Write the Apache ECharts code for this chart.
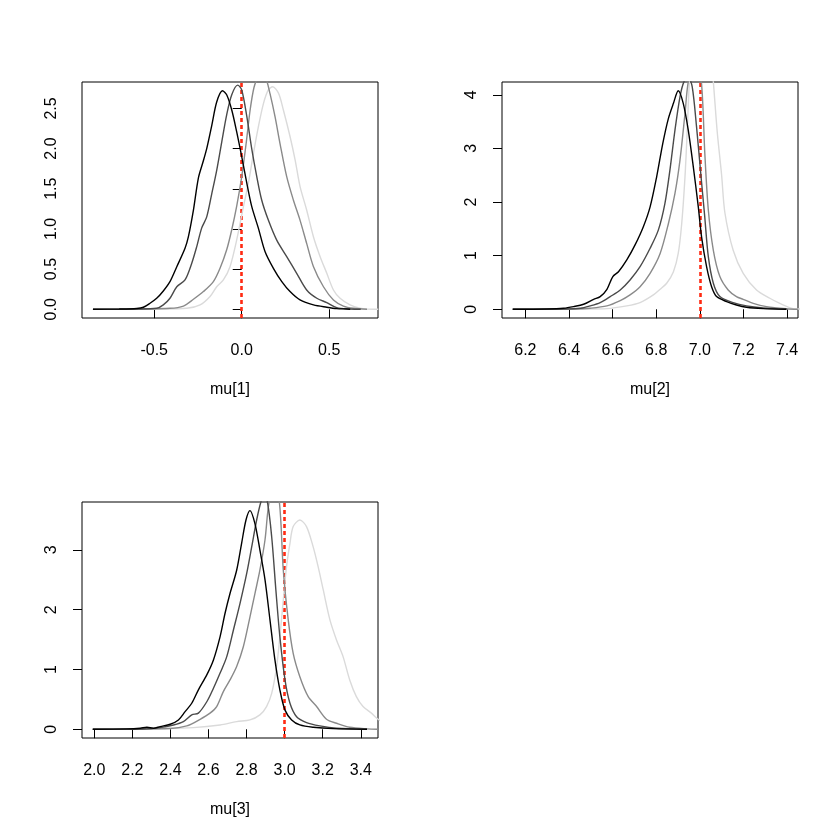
<!DOCTYPE html>
<html>
<head>
<meta charset="utf-8">
<script src="https://cdn.jsdelivr.net/npm/echarts@6/dist/echarts.min.js"></script>
<style>html,body{margin:0;padding:0;background:#fff}#c{width:840px;height:840px}</style>
</head>
<body>
<div id="c"></div>
<script>
// ---- data ----
var mu1_chain1 = [[-0.85,0],[-0.7,0.003],[-0.6,0.01],[-0.562,0.025],[-0.524,0.075],[-0.486,0.137],[-0.448,0.228],[-0.41,0.344],[-0.371,0.53],[-0.324,0.76],[-0.305,0.90],[-0.276,1.235],[-0.248,1.63],[-0.223,1.82],[-0.2,2.0],[-0.171,2.29],[-0.143,2.58],[-0.11,2.72],[-0.086,2.67],[-0.057,2.48],[-0.029,2.21],[0,1.9],[0.029,1.57],[0.057,1.28],[0.095,1.01],[0.133,0.72],[0.181,0.51],[0.229,0.344],[0.276,0.22],[0.333,0.116],[0.41,0.054],[0.486,0.025],[0.543,0.008],[0.6,0.003],[0.62,0]];
var mu1_chain2 = [[-0.85,0],[-0.6,0.003],[-0.486,0.012],[-0.448,0.054],[-0.41,0.137],[-0.371,0.28],[-0.324,0.365],[-0.286,0.57],[-0.257,0.78],[-0.229,1.01],[-0.2,1.15],[-0.171,1.44],[-0.143,1.73],[-0.114,2.085],[-0.086,2.42],[-0.057,2.67],[-0.023,2.79],[0,2.73],[0.029,2.40],[0.057,2.0],[0.086,1.65],[0.114,1.36],[0.152,1.11],[0.2,0.86],[0.257,0.655],[0.314,0.448],[0.371,0.24],[0.429,0.137],[0.486,0.083],[0.543,0.02],[0.62,0.003],[0.68,0]];
var mu1_chain3 = [[-0.7,0],[-0.41,0.012],[-0.333,0.04],[-0.276,0.124],[-0.219,0.22],[-0.162,0.344],[-0.124,0.51],[-0.086,0.74],[-0.057,0.99],[-0.029,1.28],[0,1.65],[0.025,2.06],[0.048,2.48],[0.07,2.76],[0.09,2.87],[0.115,2.92],[0.14,2.86],[0.162,2.68],[0.19,2.40],[0.219,2.06],[0.257,1.65],[0.295,1.36],[0.333,1.11],[0.371,0.82],[0.41,0.53],[0.467,0.28],[0.524,0.116],[0.581,0.04],[0.638,0.012],[0.716,0]];
var mu1_chain4 = [[-0.6,0],[-0.314,0.012],[-0.238,0.054],[-0.181,0.158],[-0.143,0.28],[-0.105,0.365],[-0.067,0.53],[-0.029,0.86],[0.01,1.28],[0.038,1.57],[0.067,1.94],[0.095,2.27],[0.124,2.56],[0.152,2.73],[0.177,2.77],[0.21,2.69],[0.238,2.48],[0.276,2.15],[0.305,1.86],[0.333,1.53],[0.371,1.235],[0.41,0.90],[0.448,0.655],[0.486,0.448],[0.524,0.24],[0.562,0.137],[0.619,0.054],[0.676,0.012],[0.716,0.002],[0.78,0]];

var mu2_chain1 = [[6.142,0],[6.299,0.006],[6.375,0.02],[6.421,0.05],[6.467,0.093],[6.513,0.186],[6.543,0.236],[6.574,0.373],[6.601,0.61],[6.627,0.70],[6.665,0.92],[6.703,1.2],[6.741,1.54],[6.772,1.91],[6.802,2.47],[6.83,3.09],[6.856,3.56],[6.879,3.84],[6.901,4.075],[6.924,3.84],[6.947,3.34],[6.97,2.66],[6.993,1.91],[7.008,1.35],[7.031,0.795],[7.054,0.42],[7.077,0.236],[7.123,0.143],[7.168,0.08],[7.214,0.037],[7.29,0.012],[7.397,0]];
var mu2_chain2 = [[6.142,0],[6.375,0.005],[6.452,0.018],[6.497,0.062],[6.543,0.124],[6.589,0.236],[6.635,0.36],[6.68,0.547],[6.726,0.795],[6.772,1.137],[6.81,1.48],[6.84,1.976],[6.863,2.6],[6.886,3.34],[6.909,3.96],[6.927,4.24],[6.947,4.32],[6.965,4.15],[6.985,3.4],[7.005,2.5],[7.022,1.75],[7.039,0.98],[7.062,0.485],[7.092,0.236],[7.153,0.124],[7.214,0.062],[7.29,0.024],[7.397,0]];
var mu2_chain3 = [[6.142,0],[6.421,0.005],[6.497,0.02],[6.574,0.062],[6.635,0.16],[6.68,0.267],[6.726,0.42],[6.772,0.67],[6.818,1.04],[6.856,1.6],[6.886,2.16],[6.909,2.78],[6.932,3.65],[6.947,4.24],[6.97,4.5],[6.99,4.45],[7.008,4.2],[7.023,2.9],[7.039,1.85],[7.062,1.1],[7.092,0.61],[7.13,0.36],[7.168,0.236],[7.199,0.186],[7.245,0.11],[7.306,0.05],[7.397,0.01],[7.45,0]];
var mu2_chain4 = [[6.142,0],[6.45,0.005],[6.574,0.012],[6.665,0.062],[6.726,0.124],[6.787,0.267],[6.818,0.373],[6.848,0.485],[6.879,0.70],[6.901,1.04],[6.917,1.6],[6.932,2.47],[6.943,3.4],[6.952,4.24],[6.97,5.2],[6.995,5.7],[7.02,5.6],[7.045,5.0],[7.062,4.24],[7.08,3.3],[7.1,2.5],[7.115,1.8],[7.153,1.1],[7.199,0.67],[7.26,0.36],[7.321,0.205],[7.367,0.11],[7.428,0.012],[7.46,0.005]];

var mu3_chain1 = [[1.991,0],[2.171,0.006],[2.241,0.017],[2.276,0.033],[2.311,0.017],[2.346,0.045],[2.399,0.084],[2.442,0.156],[2.477,0.295],[2.512,0.435],[2.547,0.66],[2.591,0.91],[2.626,1.16],[2.661,1.55],[2.687,1.94],[2.713,2.27],[2.748,2.66],[2.774,3.11],[2.797,3.5],[2.818,3.657],[2.844,3.44],[2.87,3.0],[2.897,2.5],[2.923,1.83],[2.949,1.16],[2.975,0.66],[3.002,0.32],[3.037,0.156],[3.08,0.072],[3.15,0.033],[3.255,0.01],[3.433,0]];
var mu3_chain2 = [[1.993,0],[2.259,0.005],[2.346,0.028],[2.416,0.072],[2.468,0.128],[2.512,0.24],[2.547,0.27],[2.591,0.46],[2.626,0.686],[2.661,0.94],[2.696,1.215],[2.731,1.66],[2.766,2.11],[2.801,2.61],[2.827,3.05],[2.853,3.5],[2.876,3.81],[2.891,3.9],[2.909,3.81],[2.932,3.22],[2.954,2.33],[2.975,1.55],[3.002,0.825],[3.028,0.435],[3.063,0.21],[3.115,0.111],[3.185,0.056],[3.273,0.017],[3.433,0]];
var mu3_chain3 = [[1.993,0],[2.399,0.012],[2.486,0.056],[2.556,0.167],[2.608,0.27],[2.643,0.38],[2.678,0.63],[2.713,0.825],[2.748,1.05],[2.783,1.38],[2.818,1.88],[2.844,2.27],[2.87,2.66],[2.897,3.17],[2.919,3.81],[2.946,3.98],[2.972,3.81],[2.993,2.66],[3.019,1.83],[3.045,1.27],[3.08,0.88],[3.124,0.546],[3.168,0.38],[3.22,0.167],[3.273,0.1],[3.342,0.033],[3.433,0.006],[3.49,0]];
var mu3_chain4 = [[2.049,0],[2.346,0.012],[2.521,0.028],[2.661,0.072],[2.748,0.128],[2.818,0.156],[2.87,0.24],[2.905,0.38],[2.932,0.6],[2.958,1.05],[2.975,1.55],[2.993,2.16],[3.01,2.72],[3.028,3.11],[3.045,3.39],[3.08,3.5],[3.115,3.39],[3.15,3.05],[3.176,2.72],[3.203,2.33],[3.238,1.83],[3.273,1.49],[3.307,1.215],[3.342,0.825],[3.377,0.546],[3.412,0.38],[3.456,0.27],[3.491,0.167],[3.53,0.1]];

var trueValues = [0, 7, 3];
var axisTitles = ['mu[1]', 'mu[2]', 'mu[3]'];
var mu1_xticks = [-0.5, 0, 0.5];
var mu1_yticks = [0, 0.5, 1, 1.5, 2, 2.5];
var mu2_xticks = [6.2, 6.4, 6.6, 6.8, 7.0, 7.2, 7.4];
var mu2_yticks = [0, 1, 2, 3, 4];
var mu3_xticks = [2.0, 2.2, 2.4, 2.6, 2.8, 3.0, 3.2, 3.4];
var mu3_yticks = [0, 1, 2, 3];

// ---- layout / style ----
var FONT = 'Liberation Sans, Arial, Helvetica, sans-serif';
var chainColors = ['#000000', '#4a4a4a', '#8a8a8a', '#dadada'];
var panels = [
  {chains:[mu1_chain1,mu1_chain2,mu1_chain3,mu1_chain4], xt:mu1_xticks, yt:mu1_yticks, xr:[-0.9126,0.7786], yr:[-0.1088,2.8288], yfmt:1, left:82, top:82},
  {chains:[mu2_chain1,mu2_chain2,mu2_chain3,mu2_chain4], xt:mu2_xticks, yt:mu2_yticks, xr:[6.0927,7.4503], yr:[-0.163,4.238], yfmt:0, left:502, top:82},
  {chains:[mu3_chain1,mu3_chain2,mu3_chain3,mu3_chain4], xt:mu3_xticks, yt:mu3_yticks, xr:[1.9354,3.4906], yr:[-0.1462,3.8012], yfmt:0, left:82, top:502}
];

var grids = [], xAxes = [], yAxes = [], series = [];
panels.forEach(function (p, i) {
  grids.push({left:p.left, top:p.top, width:296, height:236, show:true, borderColor:'#000', borderWidth:1, backgroundColor:'transparent', containLabel:false});
  xAxes.push({
    type:'value', gridIndex:i, min:p.xr[0], max:p.xr[1],
    name:axisTitles[i], nameLocation:'middle', nameGap:64,
    nameTextStyle:{fontFamily:FONT, fontSize:16, color:'#000'},
    axisLine:{show:false}, splitLine:{show:false},
    axisTick:{show:true, inside:false, length:9, customValues:p.xt, lineStyle:{color:'#000', width:1}},
    axisLabel:{show:true, customValues:p.xt, margin:25, fontFamily:FONT, fontSize:16, color:'#000',
      formatter:function(v){ return v.toFixed(1); }}
  });
  yAxes.push({
    type:'value', gridIndex:i, min:p.yr[0], max:p.yr[1],
    axisLine:{show:false}, splitLine:{show:false},
    axisTick:{show:true, inside:false, length:9, customValues:p.yt, lineStyle:{color:'#000', width:1}},
    axisLabel:{show:true, customValues:p.yt, rotate:90, margin:22, fontFamily:FONT, fontSize:16, color:'#000',
      formatter:(function(d){ return function(v){ return v.toFixed(d); }; })(p.yfmt)}
  });
  p.chains.forEach(function (c, k) {
    series.push({
      type:'line', xAxisIndex:i, yAxisIndex:i, data:c, showSymbol:false, smooth:0.3,
      clip:true, silent:true, z:10-k,
      lineStyle:{color:chainColors[k], width:1.4}
    });
  });
  series.push({
    type:'line', xAxisIndex:i, yAxisIndex:i, data:[], silent:true, z:20,
    markLine:{silent:true, symbol:['none','none'], label:{show:false},
      lineStyle:{color:'#ff2a12', width:2.6, type:[4,3]},
      data:[{xAxis:trueValues[i]}]}
  });
});

var chart = echarts.init(document.getElementById('c'), null, {renderer:'canvas'});
chart.setOption({
  animation:false,
  backgroundColor:'#ffffff',
  grid:grids, xAxis:xAxes, yAxis:yAxes, series:series
});
</script>
</body>
</html>
